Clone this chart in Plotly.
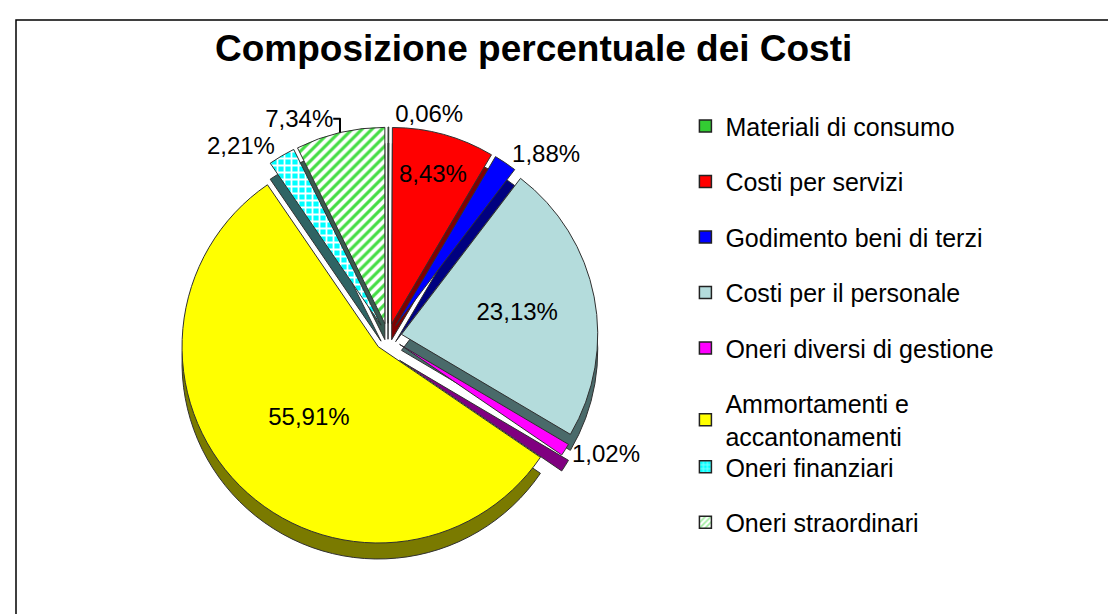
import plotly.graph_objects as go

categories = ["Materiali di consumo", "Costi per servizi", "Godimento beni di terzi",
              "Costi per il personale", "Oneri diversi di gestione",
              "Ammortamenti e<br>accantonamenti", "Oneri finanziari", "Oneri straordinari"]
values = [0.06, 8.43, 1.88, 23.13, 1.02, 55.91, 2.21, 7.34]
colors = ["#33CC33", "#FF0000", "#0000FF", "#B4DCDC", "#FF00FF", "#FFFF00", "#00FFFF", "#FFFFFF"]
side_colors = ["#116611", "#800000", "#000080", "#4A6A6A", "#800080", "#7A7A00", "#2F6464", "#3A5A50"]
pattern_shapes = ["", "", "", "", "", "", "+", "/"]
pattern_fg = ["#33CC33", "#FF0000", "#0000FF", "#B4DCDC", "#FF00FF", "#FFFF00", "#FFFFFF", "#44DD44"]
text_positions = ["outside", "inside", "outside", "inside", "outside", "inside", "outside", "outside"]
legend_ids = ["legend"] * 6 + ["legend2"] * 2
pulls = [0.07] * 8

labels_text = [f"{v:.2f}".replace(".", ",") + "%" for v in values]

W, H = 1116, 614
dom_x = [155 / W, 605 / W]
dom_y = [1 - 539 / H, 1 - 119 / H]
depth = 16 / H

fig = go.Figure()

# 3D side wall (shifted darker copy)
fig.add_trace(go.Pie(
    values=values, labels=categories, sort=False, direction="clockwise", rotation=0,
    pull=pulls, marker=dict(colors=side_colors, line=dict(color="#303030", width=1)),
    textinfo="none", showlegend=False, hoverinfo="skip",
    domain=dict(x=dom_x, y=[dom_y[0] - depth, dom_y[1] - depth]),
))

fig.add_trace(go.Pie(
    values=values, labels=categories, sort=False, direction="clockwise", rotation=0,
    pull=pulls,
    marker=dict(colors=colors, line=dict(color="#303030", width=1),
                pattern=dict(shape=pattern_shapes, fgcolor=pattern_fg, bgcolor=colors,
                             size=7, solidity=0.45)),
    text=labels_text, textinfo="text", textposition=text_positions,
    insidetextorientation="horizontal",
    textfont=dict(family="Liberation Sans, Arial", size=24, color="black"),
    showlegend=False,
    domain=dict(x=dom_x, y=dom_y),
))

for i, cat in enumerate(categories):
    fig.add_trace(go.Bar(
        x=[None], y=[None], name=cat, legendgroup=str(i), legend=legend_ids[i],
        marker=dict(color=colors[i], line=dict(color="#222222", width=1.5),
                    pattern=dict(shape=pattern_shapes[i], fgcolor=pattern_fg[i],
                                 bgcolor=colors[i], size=5, solidity=0.45)),
    ))

legend_style = dict(xanchor="left", yanchor="top",
                    font=dict(family="Liberation Sans, Arial", size=25, color="black"),
                    tracegroupgap=20, traceorder="grouped", bgcolor="rgba(0,0,0,0)")

fig.update_layout(
    width=W, height=H,
    margin=dict(l=0, r=0, t=0, b=0),
    paper_bgcolor="white", plot_bgcolor="rgba(0,0,0,0)",
    title=dict(text="<b>Composizione percentuale dei Costi</b>", x=0.471, y=0.935,
               xanchor="center", yanchor="middle",
               font=dict(family="Liberation Sans, Arial", size=37, color="black")),
    xaxis=dict(visible=False), yaxis=dict(visible=False),
    legend=dict(x=0.607, y=0.845, **legend_style),
    legend2=dict(x=0.607, y=1 - 436 / H, **legend_style),
    showlegend=True,
    shapes=[dict(type="rect", xref="paper", yref="paper", x0=8 / W, x1=1112 / W,
                 y0=-0.05, y1=1 - 12 / H, line=dict(color="black", width=1.5))],
)

fig.write_html("out.html")
